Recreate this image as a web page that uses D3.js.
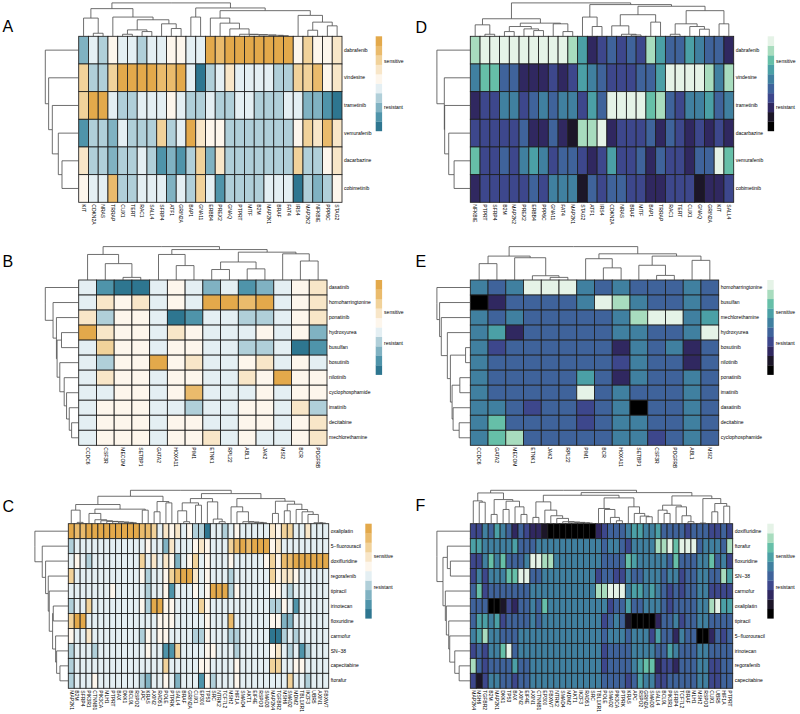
<!DOCTYPE html>
<html>
<head>
<meta charset="UTF-8">
<script src="https://d3js.org/d3.v7.min.js"></script>
<style>
  body { margin: 0; background: #fff; }
  text { font-family: "Liberation Sans", Arial, sans-serif; fill: #000; }
</style>
</head>
<body>
<svg id="fig" width="800" height="714"></svg>
<script>
// gene / drug names, colour level per cell (0 = resistant end, 9 = sensitive end)
// trees are [height, left, right], a plain 0 is a leaf, leaves run in label order
const genesA = ["KIT","CDKN2A","NRAS","TRRAP","CUX1","TERT","RAC1","SALL4","SFRP4","ATF1","GRIN2A","BAP1","GNA11","ERBB4","PREX2","GNAQ","PTPRT","MITF","B2M","MAP2K1","BRAF","FAT4","IRS4","MAP2K2","NFKBIE","PPP6C","STAG2"];
const drugsA = ["dabrafenib","vindesine","trametinib","vemurafenib","dacarbazine","cobimetinib"];
const valuesA = [
  [2,4,3,5,4,4,3,4,4,5,5,4,4,9,8,9,9,9,9,9,9,9,5,7,5,5,6],
  [7,3,3,7,9,9,9,9,8,8,9,4,0,3,4,6,4,4,4,4,3,3,7,7,8,5,6],
  [7,9,9,4,3,3,4,4,4,5,4,3,3,4,3,3,4,4,3,3,3,4,4,2,2,1,0],
  [1,3,3,2,4,3,3,3,7,3,4,9,6,5,5,3,3,3,3,3,3,3,5,7,6,8,6],
  [6,3,3,2,3,3,4,3,1,2,1,3,7,2,6,3,3,3,3,3,3,3,7,3,3,5,6],
  [5,4,4,8,3,3,4,4,4,2,4,3,7,4,1,3,3,3,3,4,4,4,0,3,2,3,5]
];
const topTreeA = [99,
  [82,[54,0,[9,0,0]],[57,0,[49,[19,[6,0,0],[14,0,0]],[37,0,[23,0,0]]]]],
  [84,[57,0,0],[76,[54,0,[39,0,[22,0,[6,0,[5,0,[4,0,[3,0,[2,0,0]]]]]]]],[62,0,[42,[18,0,0],[31,0,0]]]]]];
const sideTreeA = [100,0,[90,0,[79,0,[61,0,[50,0,0]]]]];

const genesB = ["CCDC6","CSF3R","MECOM","SETBP1","GATA2","HOXA11","PIM1","ETNK1","RPL22","ABL1","JAK2","MSI2","BCR","PDGFRB"];
const drugsB = ["dasatinib","homoharringtonine","ponatinib","hydroxyurea","busulfan","bosutinib","nilotinib","cyclophosphamide","imatinib","decitabine","mechlorethamine"];
const valuesB = [
  [4,1,0,0,4,5,4,2,4,1,2,4,5,6],
  [4,6,5,6,4,5,4,9,9,8,9,4,5,6],
  [6,3,5,5,4,0,1,4,4,3,3,4,5,6],
  [9,6,5,5,4,6,5,4,4,4,5,4,5,2],
  [4,7,5,5,4,5,5,4,4,3,3,4,0,1],
  [4,3,5,5,9,5,6,4,4,5,6,4,5,4],
  [4,6,5,5,4,5,5,4,4,6,5,9,5,5],
  [4,4,5,5,4,5,8,4,4,4,5,4,5,5],
  [4,5,5,5,4,4,3,4,4,5,5,4,6,3],
  [4,5,5,5,4,5,5,4,4,5,5,4,5,6],
  [4,5,5,5,4,5,5,6,4,5,4,4,5,6]
];
const topTreeB = [102,[78,0,[50,0,[8,0,0]]],[93,[78,0,[44,0,0]],[85,[55,[32,0,0],[34,0,0]],[80,0,[58,0,0]]]]];
const sideTreeB = [99,0,[76,0,[66,0,[64,[51,0,0],[56,0,[43,0,[36,0,[28,0,[21,0,0]]]]]]]]];

const genesC = ["MAP2K1","B2M","SFRP4","PIK3R1","CTNNB1","PIK3CA","MLH1","PTPRT","BAX","DKK1","BCL9L","RSPO2","APC","KRAS","AXIN2","RAD51","POLE","PTPRK","SALL4","BRAF","GRIN2A","CUX1","EP300","TP53","SRC","NTRK2","TCF7L2","MSH2","HIF1A","SMAD4","AKT1","EIF4E","RSPO3","SMAD3","MAP2K4","TGFBR2","MSH6","SMAD2","MDM2","TBL1XR1","IKZF3","UBR5","AXIN1","FBXW7"];
const drugsC = ["oxaliplatin","5\u2212fluorouracil","doxifluridine","regorafenib","tipiracil","irinotecan","floxuridine","carmofur","SN\u221238","capecitabine","ftorafur"];
const valuesC = [
  [9,8,8,9,9,9,9,9,9,9,9,9,8,8,7,4,6,5,6,4,5,3,3,0,4,4,3,4,5,4,4,4,4,4,6,5,7,7,4,4,6,4,4,4],
  [3,4,4,4,4,4,4,4,4,4,4,4,4,5,4,4,2,6,4,4,4,5,6,5,4,4,4,7,8,9,8,9,9,9,5,6,4,4,4,4,4,4,4,4],
  [4,5,4,3,4,4,4,4,4,4,4,4,7,4,6,4,6,5,2,4,5,7,4,5,4,4,4,5,4,4,4,4,4,5,7,5,8,8,9,9,9,9,9,9],
  [7,4,4,4,4,4,4,4,4,4,4,4,5,3,4,4,5,7,8,9,9,6,4,5,4,4,4,3,4,4,4,4,4,4,7,5,6,6,5,4,4,4,4,4],
  [4,4,4,4,4,4,4,5,4,4,4,4,4,3,4,4,5,1,4,4,4,5,4,5,9,9,9,3,5,4,4,4,4,4,5,5,4,3,4,4,4,4,4,4],
  [3,4,4,7,4,4,4,4,4,4,4,4,5,3,9,9,5,5,4,4,4,4,7,5,4,4,4,4,4,4,4,4,4,4,3,3,5,4,1,4,4,4,4,4],
  [7,9,9,4,4,4,4,4,4,4,4,4,4,4,4,5,5,5,4,4,4,4,4,5,4,4,4,8,4,4,4,4,4,4,5,5,2,2,4,4,4,4,4,4],
  [5,4,4,6,4,4,4,4,4,4,4,4,3,5,4,5,5,4,4,4,4,3,3,5,4,4,4,3,3,4,4,4,4,4,0,0,3,4,3,4,4,4,4,4],
  [3,4,4,4,3,4,4,4,4,4,4,4,4,5,4,4,1,1,7,4,4,4,4,5,5,4,4,4,3,4,4,4,4,4,5,6,4,3,4,1,3,4,4,4],
  [3,4,4,4,4,4,4,4,4,4,4,4,4,4,4,4,7,4,4,4,4,4,5,5,4,4,4,4,5,4,4,4,4,4,7,7,4,4,5,5,4,4,4,4],
  [3,4,4,4,5,4,4,4,4,4,4,4,3,2,4,4,5,4,2,4,4,4,1,5,3,4,4,4,5,4,4,4,4,4,4,4,4,7,4,4,3,4,4,4]
];
const topTreeC = [101,
  [83,
    [58,[41,0,[4,0,0]],[44,[31,0,[12,0,[9,0,[7,0,[6,0,[5,0,[4,0,[3,0,0]]]]]]]],[41,0,0]]],
    [67,[36,0,0],[63,0,0]]],
  [91,
    [76,[63,[39,0,[6,0,0]],[56,0,0]],[66,0,[14,0,[6,0,0]]]],
    [76,[51,0,[36,0,[6,0,[5,0,[4,0,[3,0,0]]]]]],[68,[31,0,0],[59,[39,0,0],[43,0,[36,0,[28,0,[3,0,[2,0,0]]]]]]]]]];
const sideTreeC = [100,0,[78,0,[68,0,[60,0,[57,0,[47,[45,0,0],[38,0,[35,0,[25,0,0]]]]]]]]];

const genesD = ["NFKBIE","PTPRT","SFRP4","B2M","MAP2K2","PREX2","ERBB4","PPP6C","GNA11","FAT4","MAP2K1","STAG2","ATF1","IRS4","CDKN2A","NRAS","BRAF","MITF","BAP1","TRRAP","RAC1","TERT","CUX1","GNAQ","GRIN2A","KIT","SALL4"];
const drugsD = ["dabrafenib","vindesine","trametinib","dacarbazine","vemurafenib","cobimetinib"];
const valuesD = [
  [8,9,9,9,9,9,9,9,9,9,8,6,2,3,4,3,4,3,8,6,4,4,6,5,4,4,2],
  [5,7,7,4,4,2,2,2,3,2,3,6,5,4,3,3,3,4,4,6,9,9,9,9,8,5,8],
  [2,3,3,5,5,3,4,5,4,5,5,3,6,4,9,9,9,9,7,8,4,3,5,5,6,4,5],
  [3,3,3,3,3,4,2,2,4,2,1,8,8,9,2,3,3,3,4,2,4,3,2,3,2,3,2],
  [7,3,3,4,3,5,6,5,3,4,4,3,2,3,6,3,3,4,2,4,3,3,2,4,4,9,7],
  [2,3,3,3,3,3,4,3,5,5,5,1,4,3,4,4,3,3,2,2,3,3,3,1,2,2,3]
];
const topTreeD = [99,
  [52,[34,0,[6,0,0]],[39,[29,[14,0,0],[22,0,[17,0,0]]],[37,0,[14,0,0]]]],
  [94,[57,0,[29,0,0]],[89,[64,[31,0,[6,0,[4,0,0]]],[42,0,0]],[76,[37,[6,0,0],[29,0,[21,0,0]]],[37,0,0]]]]];
const sideTreeD = [99,0,[77,0,[76,0,[64,0,[48,0,0]]]]];

const genesE = ["CCDC6","GATA2","MECOM","ETNK1","JAK2","RPL22","PIM1","BCR","HOXA11","SETBP1","CSF3R","PDGFRB","ABL1","MSI2"];
const drugsE = ["homoharringtonine","busulfan","mechlorethamine","hydroxyurea","bosutinib","nilotinib","ponatinib","imatinib","dasatinib","decitabine","cyclophosphamide"];
const valuesE = [
  [5,4,5,9,9,9,5,4,5,4,4,4,5,4],
  [0,2,4,4,4,4,5,9,8,5,4,4,5,4],
  [5,4,5,4,4,4,4,4,5,8,9,9,5,6],
  [5,6,2,4,4,4,4,4,5,5,4,4,5,9],
  [5,3,4,4,4,4,4,4,2,5,4,5,2,4],
  [5,4,4,4,4,4,4,4,3,5,4,4,2,4],
  [5,4,4,4,4,4,6,4,2,5,4,4,5,4],
  [5,4,4,4,4,4,9,4,5,4,4,4,5,4],
  [5,5,4,3,4,4,3,4,5,0,4,4,5,4],
  [5,7,4,4,4,4,3,4,5,5,4,4,5,4],
  [5,7,8,4,4,4,4,4,5,5,3,4,5,4]
];
const topTreeE = [102,[73,[50,0,0],[68,0,[13,0,[8,0,0]]]],[80,[65,0,[37,0,0]],[73,[45,0,[14,0,0]],[60,0,0]]]];
const sideTreeE = [99,0,[91,0,[86,0,[68,0,[59,[14,0,0],[54,[31,0,0],[51,0,[33,0,0]]]]]]]];

const genesF = ["MAP2K4","MSH6","TGFBR2","B2M","MAP2K1","DKK1","TP53","BAX","AXIN2","EIF4E","AXIN1","CTNNB1","EP300","FBXW7","NTRK2","SMAD4","MDM2","AKT1","IKZF3","RAD51","SRC","TBL1XR1","POLE","SMAD2","PIK3CA","PTPRK","KRAS","APC","RSPO2","GRIN2A","SMAD3","SALL4","BCL9L","PIK3R1","SFRP4","TCF7L2","BRAF","MLH1","MSH2","RSPO3","CUX1","UBR5","HIF1A","PTPRT"];
const drugsF = ["doxifluridine","ftorafur","floxuridine","SN\u221238","carmofur","oxaliplatin","tipiracil","5\u2212fluorouracil","irinotecan","regorafenib","capecitabine"];
const valuesF = [
  [3,3,5,4,6,5,4,2,4,3,2,2,1,0,0,0,0,0,0,0,0,2,3,4,4,4,5,6,6,5,5,6,4,4,4,4,3,4,4,4,3,3,4,3],
  [6,6,5,5,5,5,5,6,4,4,4,5,5,5,5,5,5,5,5,5,5,5,4,5,5,4,3,5,5,5,5,8,8,9,7,9,9,9,4,5,5,5,4,8],
  [3,3,5,7,5,7,4,4,4,5,9,9,8,8,5,5,5,5,5,5,5,5,4,4,4,4,7,6,5,5,5,5,5,4,7,4,4,4,5,5,7,4,5,3],
  [3,5,3,5,5,5,7,7,9,9,4,4,5,5,5,5,5,5,5,5,5,3,4,4,3,3,5,4,4,5,5,5,4,5,5,3,4,4,5,5,4,4,8,6],
  [4,7,3,4,4,4,4,4,4,4,5,5,5,5,5,5,5,5,5,5,5,8,8,9,9,9,5,6,6,5,6,5,4,3,4,3,4,4,5,5,3,3,3,3],
  [4,4,4,0,0,1,3,2,4,4,5,4,7,5,5,5,5,5,5,5,5,5,5,3,4,4,6,4,4,5,5,5,4,3,4,4,4,4,5,5,8,9,6,6],
  [4,6,6,5,6,3,4,4,4,4,5,4,5,5,5,5,5,5,5,5,5,5,3,4,5,4,1,0,0,0,0,2,4,4,5,3,4,4,5,5,4,4,4,4],
  [5,6,8,5,5,4,4,4,5,5,5,5,5,5,5,5,5,5,5,5,5,5,4,5,5,5,4,5,5,5,3,6,4,4,2,5,4,4,0,0,2,4,3,4],
  [3,4,3,5,5,7,9,4,5,5,5,5,5,5,5,5,5,5,5,5,5,5,3,4,4,4,4,5,5,5,5,4,4,6,5,4,4,4,5,5,4,4,4,4],
  [8,4,3,4,4,4,4,6,4,4,5,5,5,5,5,5,5,5,5,5,5,5,3,4,4,4,4,5,6,7,7,2,3,3,2,4,4,4,5,5,3,3,4,4],
  [3,1,3,5,5,4,4,3,4,4,5,5,5,5,5,5,5,5,5,5,5,5,4,4,4,4,3,4,6,5,5,3,3,4,4,4,4,4,5,5,3,3,4,4]
];
const topTreeF = [101,
  [93,[69,0,[65,0,0]],[73,[28,0,0],[68,[43,0,0],[51,0,[28,0,0]]]]],
  [94,
    [86,[66,[19,0,0],[41,0,[24,0,[16,0,[6,0,[5,0,[4,0,[3,0,[2,0,0]]]]]]]]],
      [78,[46,0,[43,0,[19,0,[9,0,0]]]],[51,0,[31,0,[23,0,[21,0,0]]]]]],
    [84,[56,[41,0,[31,0,0]],[51,0,[24,0,[6,0,0]]]],[76,[2,0,0],[61,[36,0,0],[53,0,0]]]]]];
const sideTreeF = [99,0,[81,[68,0,[59,0,0]],[74,0,[71,0,[64,0,[61,0,[46,0,[33,0,0]]]]]]]];

const legendLevels = d3.range(10);
const warmColors = ["#2E7690","#4F94AA","#80B2C2","#B0CFD9","#E4EFF3","#FDF6EC","#F8E6C8","#F1D29A","#EABB6C","#E3A94B"];
const coolColors = ["#000000","#1C1628","#302860","#3D478C","#3F639B","#4080A0","#4BA0A6","#66BFA8","#A8DCBE","#E5F3E7"];

const panels = [
  {name:"A", genes:genesA, drugs:drugsA, values:valuesA, topTree:topTreeA, sideTree:sideTreeA, colors:warmColors,
   x:78.7, y:36.3, w:263.3, h:166, legendX:375.7, legendTicks:[7.4,2.5], nameY:32},
  {name:"B", genes:genesB, drugs:drugsB, values:valuesB, topTree:topTreeB, sideTree:sideTreeB, colors:warmColors,
   x:78.7, y:280, w:248.3, h:165.3, legendX:375.7, legendTicks:[6.65,3.35], nameY:267},
  {name:"C", genes:genesC, drugs:drugsC, values:valuesC, topTree:topTreeC, sideTree:sideTreeC, colors:warmColors,
   x:68.3, y:523.7, w:260.4, h:164.6, legendX:365.3, legendTicks:[6.6,3.3], nameY:512},
  {name:"D", genes:genesD, drugs:drugsD, values:valuesD, topTree:topTreeD, sideTree:sideTreeD, colors:coolColors,
   x:470.3, y:36.3, w:263.4, h:166, legendX:767.7, legendTicks:[7.4,2.5], nameY:33},
  {name:"E", genes:genesE, drugs:drugsE, values:valuesE, topTree:topTreeE, sideTree:sideTreeE, colors:coolColors,
   x:470.3, y:280, w:248.4, h:165.3, legendX:767.3, legendTicks:[6.65,3.35], nameY:267},
  {name:"F", genes:genesF, drugs:drugsF, values:valuesF, topTree:topTreeF, sideTree:sideTreeF, colors:coolColors,
   x:470.3, y:523.7, w:262.4, h:164.6, legendX:767.3, legendTicks:[6.6,3.3], nameY:511}
];

const dendroSize = 33.4;
const legendW = 6.4;
const legendH = 94.7;
const svg = d3.select("#fig");

// walk the tree through d3.hierarchy, parent sits midway between its children
function drawTree(g, tree, bandScale, labels, horizontal) {
  const root = d3.hierarchy(tree, d => Array.isArray(d) ? d.slice(1) : null);
  const leaves = root.leaves();
  root.eachAfter(n => {
    if (n.children) {
      n.pos = d3.mean(n.children, c => c.pos);
      n.h = n.data[0];
    } else {
      n.pos = bandScale(labels[leaves.indexOf(n)]) + bandScale.bandwidth() / 2;
      n.h = 0;
    }
  });
  const hScale = d3.scaleLinear().domain([0, root.h]).range([0, -dendroSize]);
  const path = d3.path();
  root.each(n => {
    if (!n.children) return;
    n.children.forEach(c => {
      if (horizontal) {
        path.moveTo(c.pos, hScale(c.h));
        path.lineTo(c.pos, hScale(n.h));
        path.lineTo(n.pos, hScale(n.h));
      } else {
        path.moveTo(hScale(c.h), c.pos);
        path.lineTo(hScale(n.h), c.pos);
        path.lineTo(hScale(n.h), n.pos);
      }
    });
  });
  g.append("path").attr("d", path.toString())
    .attr("fill", "none").attr("stroke", "#4a4a4a").attr("stroke-width", 0.8);
}

panels.forEach(p => {
  const g = svg.append("g").attr("transform", `translate(${p.x},${p.y})`);
  const x = d3.scaleBand().domain(p.genes).range([0, p.w]);
  const y = d3.scaleBand().domain(p.drugs).range([0, p.h]);
  const color = d3.scaleOrdinal().domain(legendLevels).range(p.colors);

  const cells = p.values.flatMap((row, i) => row.map((v, j) => ({drug: p.drugs[i], gene: p.genes[j], v: v})));
  g.append("g").selectAll("rect").data(cells).enter().append("rect")
    .attr("x", d => x(d.gene))
    .attr("y", d => y(d.drug))
    .attr("width", x.bandwidth())
    .attr("height", y.bandwidth())
    .attr("fill", d => color(d.v))
    .attr("stroke", "#1e1e1e")
    .attr("stroke-width", 0.85);

  drawTree(g.append("g"), p.topTree, x, p.genes, true);
  drawTree(g.append("g"), p.sideTree, y, p.drugs, false);

  // drug names on the right
  const rowAxis = g.append("g").attr("transform", `translate(${p.w},0)`)
    .call(d3.axisRight(y).tickSize(0).tickPadding(2));
  rowAxis.select(".domain").remove();
  rowAxis.selectAll("text").attr("font-size", 5).style("font-family", null);

  // gene names under the cells, reading downwards
  const colAxis = g.append("g").attr("transform", `translate(0,${p.h})`)
    .call(d3.axisBottom(x).tickSize(0));
  colAxis.select(".domain").remove();
  colAxis.selectAll("text")
    .attr("font-size", 5)
    .attr("text-anchor", "start")
    .attr("transform", "translate(0,2) rotate(90)")
    .attr("x", 0).attr("y", 0).attr("dy", "0.35em");

  // legend
  const lg = svg.append("g").attr("transform", `translate(${p.legendX},${p.y})`);
  const band = d3.scaleBand().domain(legendLevels.slice().reverse()).range([0, legendH]);
  lg.selectAll("rect").data(legendLevels).enter().append("rect")
    .attr("x", 0).attr("y", d => band(d))
    .attr("width", legendW).attr("height", band.bandwidth() + 0.2)
    .attr("fill", d => color(d));
  const ly = d3.scaleLinear().domain([0, 10]).range([legendH, 0]);
  const legendAxis = lg.append("g").attr("transform", `translate(${legendW},0)`)
    .call(d3.axisRight(ly).tickValues(p.legendTicks).tickSize(0).tickPadding(2)
      .tickFormat((d, i) => i === 0 ? "sensitive" : "resistant"));
  legendAxis.select(".domain").remove();
  legendAxis.selectAll("text").attr("font-size", 5);

  svg.append("text").attr("x", p.x > 400 ? 415.5 : 2.5).attr("y", p.nameY)
    .attr("font-size", 16).text(p.name);
});
</script>
</body>
</html>
